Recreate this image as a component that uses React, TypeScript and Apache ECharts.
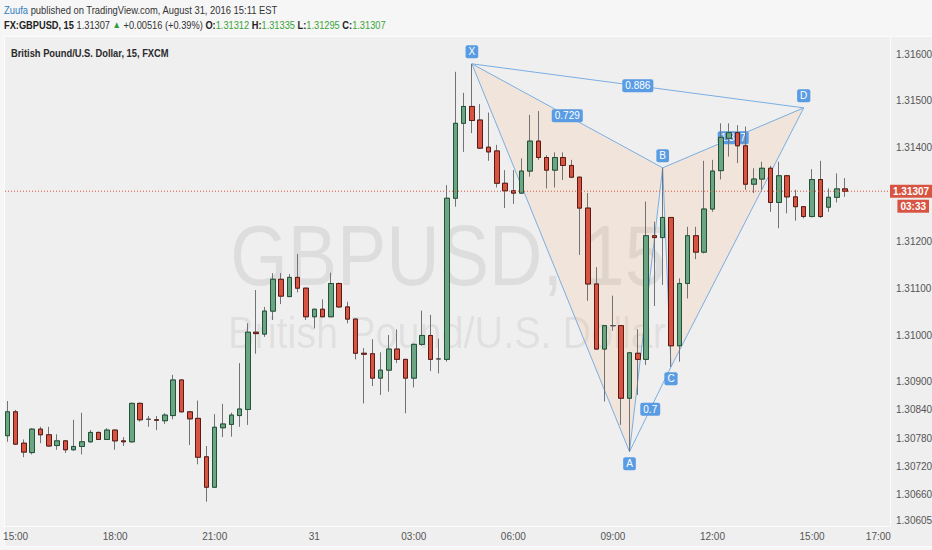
import React, { useEffect, useRef } from "react";
import * as echarts from "echarts";

// GBPUSD 15-minute candles, FXCM, 30-31 Aug 2016
const startTime = "2016-08-30 14:45";
const stepMinutes = 15;

const opens = [
  1.30785, 1.30836, 1.30769, 1.30749, 1.30799, 1.30787, 1.30764, 1.30774, 1.30755, 1.30762,
  1.30772, 1.30792, 1.30777, 1.30797, 1.30774, 1.30772, 1.30854, 1.3082, 1.30819, 1.30817,
  1.30828, 1.30904, 1.30836, 1.30822, 1.3074, 1.30675, 1.30802, 1.30809, 1.30828, 1.30841,
  1.31006, 1.31002, 1.31051, 1.31119, 1.31082, 1.31123, 1.311, 1.31039, 1.31055, 1.31039,
  1.3111, 1.3106, 1.31034, 1.30961, 1.3096, 1.30908, 1.30925, 1.3097, 1.30948, 1.30908,
  1.3098, 1.30999, 1.30949, 1.30948, 1.31292, 1.31452, 1.31488, 1.31459, 1.31401, 1.31393,
  1.31324, 1.31308, 1.31303, 1.3135, 1.31414, 1.31379, 1.31352, 1.31379, 1.31362, 1.31337,
  1.31271, 1.31109, 1.3097, 1.3102, 1.3102, 1.30865, 1.30961, 1.30948, 1.31212, 1.31208,
  1.31251, 1.30977, 1.3111, 1.31212, 1.31177, 1.31269, 1.31351, 1.3142, 1.31432, 1.31404,
  1.31322, 1.31333, 1.31356, 1.31283, 1.3134, 1.31295, 1.31274, 1.31253, 1.31332, 1.31273,
  1.31294, 1.31312,
];
const closes = [
  1.30836, 1.30767, 1.3075, 1.30799, 1.30787, 1.30763, 1.30774, 1.30755, 1.30762, 1.30772,
  1.30792, 1.30777, 1.30797, 1.30774, 1.30772, 1.30854, 1.30819, 1.3082, 1.30818, 1.30829,
  1.30904, 1.30836, 1.30821, 1.30739, 1.30675, 1.30803, 1.3081, 1.30829, 1.30842, 1.31006,
  1.31003, 1.31051, 1.31119, 1.31083, 1.31123, 1.311, 1.31039, 1.31055, 1.31039, 1.3111,
  1.3106, 1.31034, 1.30961, 1.30959, 1.30908, 1.30925, 1.3097, 1.30948, 1.30908, 1.3098,
  1.30999, 1.30948, 1.30949, 1.31292, 1.31452, 1.31488, 1.31458, 1.31399, 1.31391, 1.31324,
  1.31308, 1.31303, 1.3135, 1.31414, 1.31379, 1.31352, 1.31379, 1.31362, 1.31337, 1.31271,
  1.31109, 1.3097, 1.3102, 1.3102, 1.30865, 1.30962, 1.30948, 1.31212, 1.31208, 1.31251,
  1.30977, 1.3111, 1.31212, 1.31177, 1.31269, 1.3135, 1.31422, 1.31432, 1.31404, 1.31322,
  1.31333, 1.31356, 1.31283, 1.3134, 1.31295, 1.31274, 1.31253, 1.31332, 1.31253, 1.31294,
  1.31312, 1.31307,
];
const highs = [
  1.30859, 1.3084, 1.30777, 1.30801, 1.30804, 1.30804, 1.30788, 1.30776, 1.30819, 1.30834,
  1.30797, 1.30794, 1.30801, 1.30798, 1.30782, 1.30856, 1.30856, 1.30827, 1.30827, 1.30833,
  1.30915, 1.30905, 1.30838, 1.3086, 1.30763, 1.30831, 1.30853, 1.30834, 1.3094, 1.31025,
  1.31096, 1.3106, 1.31132, 1.31132, 1.3113, 1.31173, 1.31101, 1.31056, 1.31076, 1.31133,
  1.31112, 1.31071, 1.31035, 1.30972, 1.30991, 1.30963, 1.31, 1.31012, 1.30949, 1.30982,
  1.31052, 1.31043, 1.30992, 1.3132, 1.31562, 1.31517, 1.31579, 1.31493, 1.31475, 1.31406,
  1.31352, 1.31352, 1.31377, 1.3147, 1.31478, 1.31384, 1.3139, 1.3139, 1.31374, 1.31338,
  1.31303, 1.31145, 1.31021, 1.31084, 1.31021, 1.30963, 1.31012, 1.31285, 1.31242, 1.31357,
  1.31252, 1.31121, 1.31231, 1.31231, 1.31372, 1.31374, 1.31452, 1.31452, 1.31448, 1.31445,
  1.31356, 1.3137, 1.31361, 1.3137, 1.31342, 1.3131, 1.31275, 1.31354, 1.31372, 1.31313,
  1.31345, 1.31335,
];
const lows = [
  1.30772, 1.30765, 1.30739, 1.30745, 1.30769, 1.30762, 1.30755, 1.30748, 1.30753, 1.30745,
  1.3077, 1.30776, 1.30776, 1.30755, 1.30763, 1.3077, 1.30815, 1.30804, 1.30797, 1.3081,
  1.3082, 1.30835, 1.30765, 1.30724, 1.30644, 1.30674, 1.30782, 1.30783, 1.30804, 1.30808,
  1.3096, 1.30996, 1.31032, 1.31066, 1.31081, 1.31091, 1.31032, 1.31014, 1.31038, 1.31038,
  1.31058, 1.31025, 1.30948, 1.30854, 1.30891, 1.30872, 1.30879, 1.3094, 1.30833, 1.30888,
  1.30977, 1.30923, 1.30918, 1.30943, 1.31274, 1.31391, 1.31431, 1.31397, 1.31372, 1.31315,
  1.31271, 1.3128, 1.31301, 1.31338, 1.31374, 1.31313, 1.31315, 1.31331, 1.31335, 1.31171,
  1.31073, 1.30969, 1.30858, 1.31009, 1.30808, 1.30751, 1.30872, 1.30936, 1.31062, 1.31107,
  1.30932, 1.30943, 1.31078, 1.31162, 1.31174, 1.31263, 1.31332, 1.31381, 1.31367, 1.3131,
  1.31303, 1.3131, 1.31263, 1.31228, 1.3126, 1.31244, 1.31249, 1.31251, 1.3125, 1.31263,
  1.31283, 1.31295,
];

const yTicks = [1.316, 1.315, 1.314, 1.312, 1.311, 1.31, 1.309, 1.3084, 1.3078, 1.3072, 1.3066, 1.30605];
const xTickTimes = [
  "2016-08-30 15:00", "2016-08-30 18:00", "2016-08-30 21:00", "2016-08-31 00:00", "2016-08-31 03:00",
  "2016-08-31 06:00", "2016-08-31 09:00", "2016-08-31 12:00", "2016-08-31 15:00", "2016-08-31 17:00",
];

// XABCD pattern
const patternNames = ["X", "A", "B", "C", "D"];
const patternTimes = ["2016-08-31 04:45", "2016-08-31 09:30", "2016-08-31 10:30", "2016-08-31 10:45", "2016-08-31 14:45"];
const patternPrices = [1.31579, 1.30751, 1.31357, 1.30932, 1.31485];
const ratioLegs = [["X", "B"], ["A", "C"], ["B", "D"], ["X", "D"]];
const ratioLabels = ["0.729", "0.7", "1.317", "0.886"];

const symbolText = "GBPUSD, 15";
const descText = "British Pound/U.S. Dollar";
const paneTitle = "British Pound/U.S. Dollar, 15, FXCM";
const changeText = "+0.00516 (+0.39%)";
const countdown = "03:33";

const FONT = "'Liberation Sans', Arial, sans-serif";
const NARROW = "'Liberation Sans Narrow', 'Liberation Sans', Arial, sans-serif";
const UP = "#6ba583";
const DOWN = "#d75442";
const PAT_LINE = "#7aaee2";
const PAT_LABEL = "#5a9ce4";
const PAT_FILL = "rgba(255,160,90,0.14)";

function toMinutes(s: string) {
  const [d, t] = s.split(" ");
  const [y, mo, da] = d.split("-").map(Number);
  const [h, mi] = t.split(":").map(Number);
  return Date.UTC(y, mo - 1, da, h, mi) / 60000;
}
const t0 = toMinutes(startTime);
const toIndex = (s: string) => (toMinutes(s) - t0) / stepMinutes;
function timeLabel(idx: number) {
  const d = new Date((t0 + Math.round(idx) * stepMinutes) * 60000);
  const h = d.getUTCHours();
  const m = d.getUTCMinutes();
  if (h === 0 && m === 0) return String(d.getUTCDate());
  return String(h).padStart(2, "0") + ":" + String(m).padStart(2, "0");
}
const fmt = (v: number) => v.toFixed(5);

export default function App() {
  const chartRef = useRef<HTMLDivElement>(null);

  useEffect(() => {
    document.body.style.margin = "0";
    if (!chartRef.current) return;
    const chart = echarts.init(chartRef.current, null, { renderer: "svg" });

    const candles = opens.map((o, i) => [i, o, closes[i], lows[i], highs[i]]);
    const bodies = opens.map((o, i) => [i, o, closes[i], Math.min(o, closes[i]), Math.max(o, closes[i])]);
    const n = opens.length - 1;

    const renderPattern = (params: any, api: any) => {
      const pts = patternNames.map((_, i) => api.coord([toIndex(patternTimes[i]), patternPrices[i]]));
      const at = (name: string) => pts[patternNames.indexOf(name)];
      const [X, A, B, C, D] = pts;
      const children: any[] = [
        { type: "polygon", shape: { points: [X, A, B] }, style: { fill: PAT_FILL } },
        { type: "polygon", shape: { points: [B, C, D] }, style: { fill: PAT_FILL } },
        { type: "polyline", shape: { points: pts }, style: { stroke: PAT_LINE, lineWidth: 1, fill: null } },
      ];
      ratioLegs.forEach(([a, b], k) => {
        const p = at(a);
        const q = at(b);
        children.push({ type: "line", shape: { x1: p[0], y1: p[1], x2: q[0], y2: q[1] }, style: { stroke: PAT_LINE, lineWidth: 1 } });
        children.push({
          type: "text", x: (p[0] + q[0]) / 2, y: (p[1] + q[1]) / 2,
          style: {
            text: ratioLabels[k], fill: "#fff", fontSize: 10, fontFamily: FONT, align: "center", verticalAlign: "middle",
            backgroundColor: PAT_LABEL, padding: [2, 3, 1, 3], borderRadius: 2,
          },
        });
      });
      pts.forEach((p, i) => {
        const isHigh = i % 2 === 0;
        children.push({
          type: "text", x: p[0], y: p[1] + (isHigh ? -12 : 12),
          style: {
            text: patternNames[i], fill: "#fff", fontSize: 10, fontFamily: FONT, align: "center", verticalAlign: "middle",
            backgroundColor: PAT_LABEL, padding: [2, 3, 1, 3], borderRadius: 2,
          },
        });
      });
      return { type: "group", children };
    };

    const renderPrice = (params: any, api: any) => {
      const cs = params.coordSys;
      const y = api.coord([0, closes[n]])[1];
      const right = cs.x + cs.width;
      return {
        type: "group",
        children: [
          { type: "line", shape: { x1: cs.x, y1: y, x2: right, y2: y }, style: { stroke: DOWN, lineWidth: 1, lineDash: [1, 2] } },
          {
            type: "text", x: right, y,
            style: {
              text: fmt(closes[n]), fill: "#fff", fontSize: 10, fontWeight: "bold", fontFamily: NARROW,
              align: "left", verticalAlign: "middle", backgroundColor: DOWN, padding: [2, 3, 1, 3],
            },
          },
          {
            type: "text", x: right + 39, y: y + 15,
            style: {
              text: countdown, fill: "#fff", fontSize: 10, fontWeight: "bold", fontFamily: NARROW,
              align: "right", verticalAlign: "middle", backgroundColor: DOWN, padding: [2, 3, 1, 3],
            },
          },
        ],
      };
    };

    const line2 =
      "{b|FX:GBPUSD, 15} {n|" + fmt(closes[n]) + "} {g|\u25B2} {n|" + changeText + "} " +
      "{b|O:}{v|" + fmt(opens[n]) + "} {b|H:}{v|" + fmt(highs[n]) + "} " +
      "{b|L:}{v|" + fmt(lows[n]) + "} {b|C:}{v|" + fmt(closes[n]) + "}";

    chart.setOption({
      animation: false,
      backgroundColor: "#f6f6f6",
      grid: { left: 5, right: 42, top: 37, bottom: 24, outerBoundsMode: "none", containLabel: false },
      xAxis: {
        type: "value",
        min: -0.28,
        max: 106.4,
        axisLine: { show: true, onZero: false, lineStyle: { color: "#fbfbfb", width: 1 } },
        axisTick: { show: false },
        splitLine: { show: false },
        axisLabel: {
          customValues: xTickTimes.map(toIndex),
          formatter: (v: number) => timeLabel(v),
          color: "#555",
          fontSize: 10,
          fontFamily: NARROW,
          margin: 5,
        },
      },
      yAxis: {
        type: "value",
        position: "right",
        scale: true,
        min: 1.305922,
        max: 1.316363,
        axisLine: { show: true, onZero: false, lineStyle: { color: "#fbfbfb", width: 1 } },
        axisTick: { show: false },
        splitLine: { show: false },
        axisLabel: {
          customValues: yTicks,
          formatter: (v: number) => fmt(v),
          color: "#555",
          fontSize: 10,
          fontFamily: NARROW,
          margin: 6,
        },
      },
      graphic: [
        { type: "rect", z: 0, shape: { x: 4.5, y: 36.5, width: 928, height: 510 }, style: { fill: "#efefef", stroke: "#fcfcfc", lineWidth: 1 } },
        {
          type: "text", z: 0, x: 448, y: 255, scaleX: 0.86,
          style: { text: symbolText, fill: "rgba(0,0,0,0.075)", font: "86px " + FONT, align: "center", verticalAlign: "middle" },
        },
        {
          type: "text", z: 0, x: 447, y: 333, scaleX: 0.88,
          style: { text: descText, fill: "rgba(0,0,0,0.075)", font: "45px " + FONT, align: "center", verticalAlign: "middle" },
        },
        {
          type: "text", z: 10, x: 4, y: 10, scaleX: 0.855,
          style: {
            text: "{u|Zuufa}{t| published on TradingView.com, August 31, 2016 15:11 EST}",
            font: "11px " + FONT, verticalAlign: "middle", fill: "#333",
            rich: { u: { fill: "#2b7bbf", fontSize: 11, fontFamily: FONT }, t: { fill: "#333", fontSize: 11, fontFamily: FONT } },
          },
        },
        {
          type: "text", z: 10, x: 4, y: 25, scaleX: 0.842,
          style: {
            text: line2, font: "11px " + FONT, verticalAlign: "middle", fill: "#333",
            rich: {
              b: { fill: "#222", fontWeight: "bold", fontSize: 11, fontFamily: FONT },
              n: { fill: "#333", fontSize: 11, fontFamily: FONT },
              g: { fill: "#2e9d3e", fontSize: 10, fontFamily: FONT },
              v: { fill: "#3aa33a", fontSize: 11, fontFamily: FONT },
            },
          },
        },
        {
          type: "text", z: 10, x: 11, y: 53, scaleX: 0.85,
          style: { text: paneTitle, font: "bold 11px " + FONT, fill: "#2a2a2a", verticalAlign: "middle" },
        },
      ],
      series: [
        { type: "custom", z: 1, silent: true, data: [[0, closes[n]]], renderItem: renderPattern },
        {
          type: "candlestick", z: 2, silent: true, barWidth: 5, data: candles, encode: { x: 0, y: [1, 2, 3, 4] },
          itemStyle: {
            color: "transparent", color0: "transparent", borderColor: "#737375", borderColor0: "#737375",
            borderColorDoji: "#737375", borderWidth: 1,
          },
        },
        {
          type: "candlestick", z: 3, silent: true, barWidth: 5, data: bodies, encode: { x: 0, y: [1, 2, 3, 4] },
          itemStyle: {
            color: UP, color0: DOWN, borderColor: "#225437", borderColor0: "#5b1a13",
            borderColorDoji: "#555", borderWidth: 1,
          },
        },
        { type: "custom", z: 4, silent: true, data: [[0, closes[n]]], renderItem: renderPrice },
      ],
    });

    return () => {
      chart.dispose();
    };
  }, []);

  return <div ref={chartRef} style={{ width: 932, height: 550 }} />;
}
